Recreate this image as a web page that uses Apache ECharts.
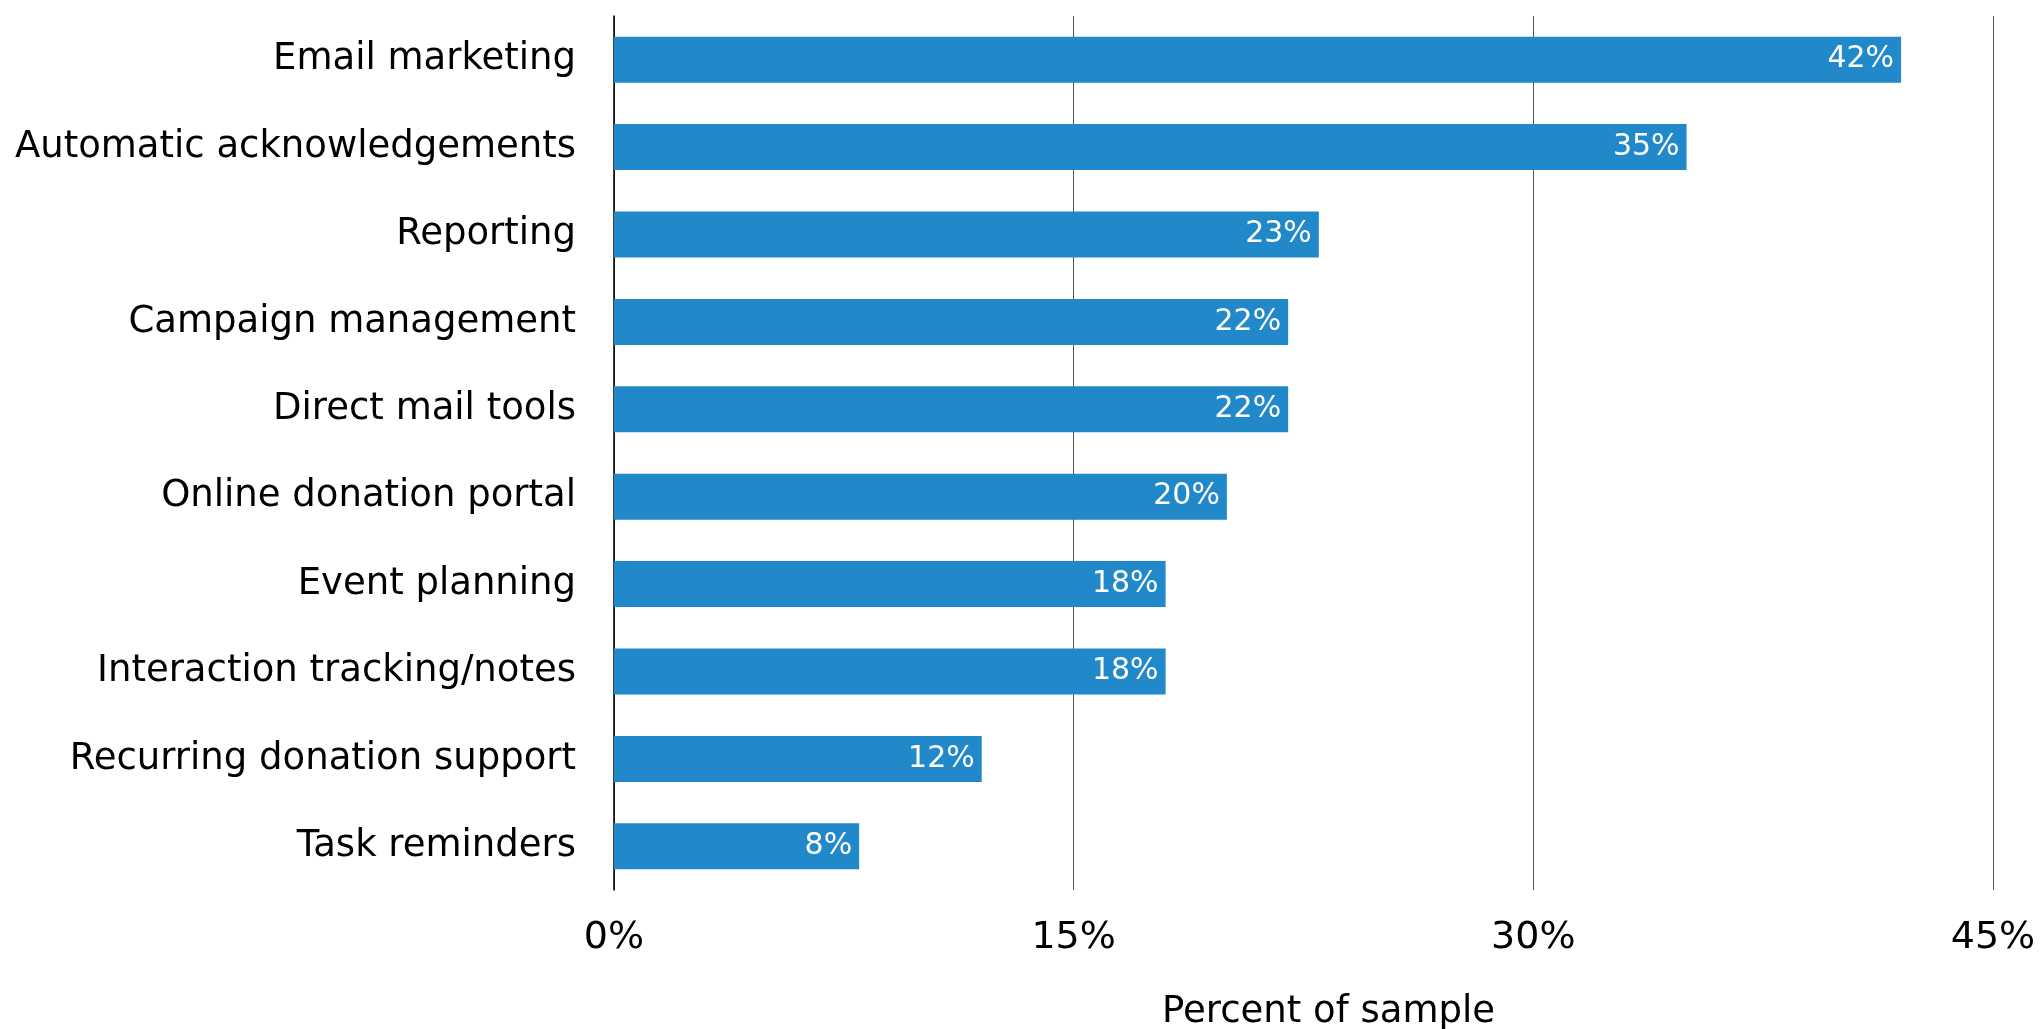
<!DOCTYPE html>
<html>
<head>
<meta charset="utf-8">
<script src="https://cdn.jsdelivr.net/npm/echarts@6/dist/echarts.min.js"></script>
<style>html,body{margin:0;padding:0;background:#fff;}#c{width:2040px;height:1029px;}</style>
</head>
<body>
<div id="c"></div>
<script>
const categories = ["Email marketing","Automatic acknowledgements","Reporting","Campaign management","Direct mail tools","Online donation portal","Event planning","Interaction tracking/notes","Recurring donation support","Task reminders"];
const values = [42,35,23,22,22,20,18,18,12,8];
const xTicks = [0,15,30,45];
const axisTitle = "Percent of sample";

const chart = echarts.init(document.getElementById('c'), null, {renderer:'canvas'});
const font = "'DejaVu Sans', Verdana, sans-serif";
chart.setOption({
  animation:false,
  backgroundColor:'#ffffff',
  grid:{left:614,right:47,top:16,bottom:139,containLabel:false,outerBoundsMode:'none'},
  xAxis:{
    type:'value',min:xTicks[0],max:xTicks[xTicks.length-1],interval:xTicks[1]-xTicks[0],
    axisLine:{show:false},axisTick:{show:false},
    splitLine:{show:true,lineStyle:{color:'#555',width:1}},
    axisLabel:{formatter:'{value}%',color:'#000',fontSize:38,fontFamily:font,margin:29},
    name:axisTitle,nameLocation:'middle',nameGap:104,
    nameTextStyle:{color:'#000',fontSize:37,fontFamily:font,padding:[0,0,0,50]}
  },
  yAxis:{
    type:'category',data:categories,inverse:true,
    axisLine:{show:true,lineStyle:{color:'#000',width:1.5}},
    axisTick:{show:false},
    axisLabel:{color:'#000',fontSize:37,fontFamily:font,margin:38}
  },
  series:[{
    type:'bar',data:values,barWidth:46,
    itemStyle:{color:'#2189c9'},
    label:{show:true,position:'insideRight',distance:7,formatter:'{c}%',color:'#fff',fontSize:30,fontFamily:font}
  }]
});
</script>
</body>
</html>
